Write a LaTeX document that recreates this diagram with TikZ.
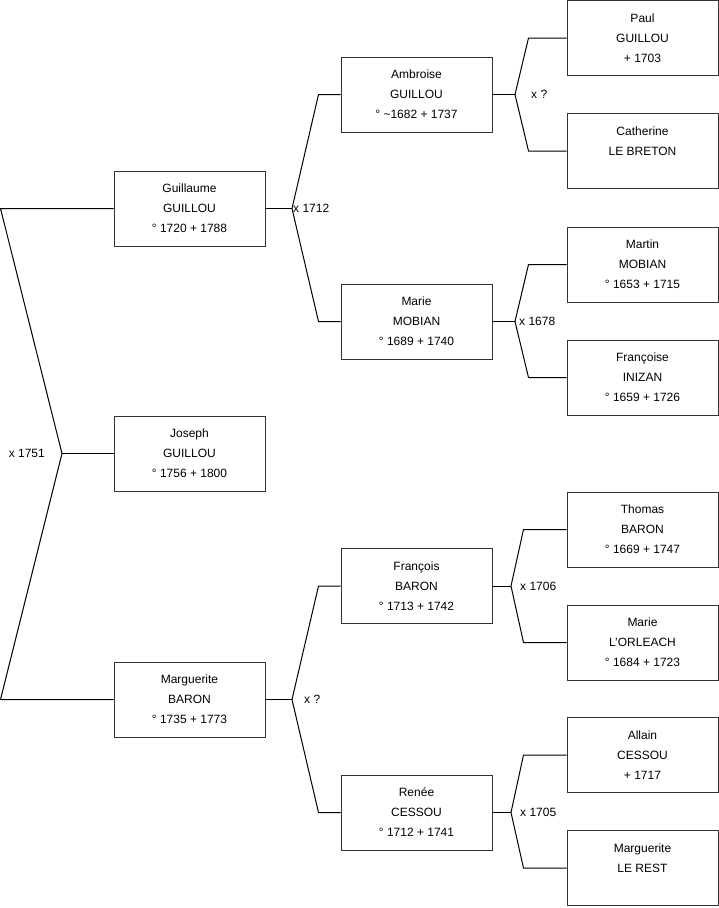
\documentclass[tikz,border=0pt]{standalone}
\usepackage{fontspec}
\setmainfont{Liberation Sans}
\usetikzlibrary{positioning}

\begin{document}
\begin{tikzpicture}[x=1pt, y=-1pt, font=\fontsize{12}{20}\selectfont,
  person/.style={draw=black!80, line width=1pt, minimum width=151pt,
                 minimum height=75pt, align=center, inner sep=2pt},
  union/.style={inner sep=1pt, anchor=west},
  link/.style={draw=black, line width=1pt}]
\useasboundingbox (0,0) rectangle (719,908);
% generation 1 and 2
\node[person] (joseph) at (189.5,453.5) {Joseph\\GUILLOU\\° 1756 + 1800};
\node[person] (guillaume) at (189.5,208.5) {Guillaume\\GUILLOU\\° 1720 + 1788};
\node[person] (margueriteb) at (189.5,699.5) {Marguerite\\BARON\\° 1735 + 1773};
% generation 3
\node[person] (ambroise) at (416.5,94.5) {Ambroise\\GUILLOU\\° \textasciitilde1682 + 1737};
\node[person] (mariem) at (416.5,321.5) {Marie\\MOBIAN\\° 1689 + 1740};
\node[person] (francois) at (416.5,586) {François\\BARON\\° 1713 + 1742};
\node[person] (renee) at (416.5,812.5) {Renée\\CESSOU\\° 1712 + 1741};
% generation 4
\node[person] (paul) at (642.5,38) {Paul\\GUILLOU\\+ 1703};
\node[person, below=37pt of paul] (catherine) {Catherine\\LE BRETON\\\mbox{}};
\node[person] (martin) at (642.5,264.5) {Martin\\MOBIAN\\° 1653 + 1715};
\node[person, below=37pt of martin] (francoise) {Françoise\\INIZAN\\° 1659 + 1726};
\node[person] (thomas) at (642.5,529.5) {Thomas\\BARON\\° 1669 + 1747};
\node[person, below=37pt of thomas] (mariel) {Marie\\L'ORLEACH\\° 1684 + 1723};
\node[person] (allain) at (642.5,755) {Allain\\CESSOU\\+ 1717};
\node[person, below=37pt of allain] (margueritel) {Marguerite\\LE REST\\\mbox{}};
% unions
\coordinate (u1751) at (62,453.5);
\coordinate (u1712) at (292,208.5);
\coordinate (ubaron) at (292,699.5);
\coordinate (uguillou) at (515,94.5);
\coordinate (u1678) at (515,321.5);
\coordinate (u1706) at (511,586);
\coordinate (u1705) at (511,812.5);
\draw[link] (joseph.west) -- (u1751);
\draw[link] (u1751) -- ([xshift=-113pt]guillaume.west) -- (guillaume.west);
\draw[link] (u1751) -- ([xshift=-113pt]margueriteb.west) -- (margueriteb.west);
\draw[link] (guillaume.east) -- (u1712);
\draw[link] (u1712) -- ([xshift=-22pt]ambroise.west) -- (ambroise.west);
\draw[link] (u1712) -- ([xshift=-22pt]mariem.west) -- (mariem.west);
\draw[link] (margueriteb.east) -- (ubaron);
\draw[link] (ubaron) -- ([xshift=-22pt]francois.west) -- (francois.west);
\draw[link] (ubaron) -- ([xshift=-22pt]renee.west) -- (renee.west);
\draw[link] (ambroise.east) -- (uguillou);
\draw[link] (uguillou) -- ([xshift=-38pt]paul.west) -- (paul.west);
\draw[link] (uguillou) -- ([xshift=-38pt]catherine.west) -- (catherine.west);
\draw[link] (mariem.east) -- (u1678);
\draw[link] (u1678) -- ([xshift=-38pt]martin.west) -- (martin.west);
\draw[link] (u1678) -- ([xshift=-38pt]francoise.west) -- (francoise.west);
\draw[link] (francois.east) -- (u1706);
\draw[link] (u1706) -- ([xshift=-43pt]thomas.west) -- (thomas.west);
\draw[link] (u1706) -- ([xshift=-43pt]mariel.west) -- (mariel.west);
\draw[link] (renee.east) -- (u1705);
\draw[link] (u1705) -- ([xshift=-43pt]allain.west) -- (allain.west);
\draw[link] (u1705) -- ([xshift=-43pt]margueritel.west) -- (margueritel.west);
% marriage labels
\node[union, anchor=east, xshift=-16pt] at (u1751) {x 1751};
\node[union] at (u1712) {x 1712};
\node[union, xshift=11pt] at (ubaron) {x ?};
\node[union, xshift=15pt] at (uguillou) {x ?};
\node[union, xshift=3pt] at (u1678) {x 1678};
\node[union, xshift=8pt] at (u1706) {x 1706};
\node[union, xshift=8pt] at (u1705) {x 1705};
\end{tikzpicture}
\end{document}
